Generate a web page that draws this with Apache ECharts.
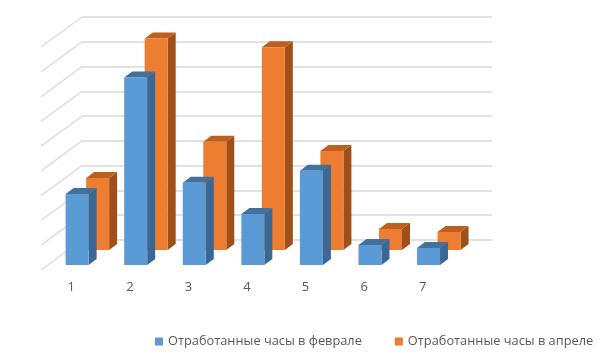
<!DOCTYPE html>
<html>
<head>
<meta charset="utf-8">
<title>Отработанные часы</title>
<script src="https://cdn.jsdelivr.net/npm/echarts@6/dist/echarts.min.js"></script>
<style>
html,body{margin:0;padding:0;background:#fff;}
#main{width:607px;height:355px;}
</style>
</head>
<body>
<div id="main"></div>
<script>
var categories = ['1', '2', '3', '4', '5', '6', '7'];
var gridTicks = [0, 1, 2, 3, 4, 5, 6, 7, 8, 9];
var febName = 'Отработанные часы в феврале';
var aprName = 'Отработанные часы в апреле';
var febValues = [2.87, 7.57, 3.32, 2.06, 3.8, 0.81, 0.69];
var aprValues = [2.91, 8.54, 4.37, 8.18, 4.0, 0.85, 0.73];

var FONT = '"Open Sans", sans-serif';
var BAR_W = 23;

// the fake 3D: moving toward the viewer goes left and down by this ratio
function bar3d(front, side, top, forwardY) {
  return function (params, api) {
    var base = api.coord([api.value(0), 0]);
    var head = api.coord([api.value(0), api.value(1)]);
    var dy = forwardY;
    var dx = -dy * 41 / 30;
    var x0 = base[0] + dx - BAR_W / 2;
    var x1 = x0 + BAR_W;
    var yb = base[1] + dy;
    var yt = head[1] + dy;
    var sx = 8, sy = 6;
    return {
      type: 'group',
      children: [
        { type: 'polygon', shape: { points: [[x1, yt], [x1 + sx, yt - sy], [x1 + sx, yb - sy], [x1, yb]] }, style: { fill: side } },
        { type: 'polygon', shape: { points: [[x0, yt], [x0 + sx, yt - sy], [x1 + sx, yt - sy], [x1, yt]] }, style: { fill: top } },
        { type: 'rect', shape: { x: x0, y: yt, width: BAR_W, height: yb - yt }, style: { fill: front } }
      ]
    };
  };
}

function slantLine(params, api) {
  var p = api.coord([0, api.value(0)]);
  var bx = p[0] - api.size([1, 0])[0] / 2;
  return {
    type: 'line',
    shape: { x1: bx, y1: p[1], x2: bx - 41, y2: p[1] + 30 },
    style: { stroke: '#dedede', lineWidth: 1.5 }
  };
}

var chart = echarts.init(document.getElementById('main'));
chart.setOption({
  animation: false,
  backgroundColor: '#fff',
  grid: { left: 82, right: 115, top: 17, bottom: 115 },
  legend: {
    left: 150, top: 330, itemWidth: 8, itemHeight: 8, itemGap: 33, icon: 'rect',
    data: [febName, aprName],
    textStyle: { fontFamily: FONT, fontSize: 12.8, color: '#595959' }
  },
  xAxis: {
    type: 'category',
    data: categories,
    axisLine: { show: false },
    axisTick: { show: false },
    axisLabel: { margin: 41, padding: [0, 80, 0, 0], fontFamily: FONT, fontSize: 13, color: '#595959' }
  },
  yAxis: {
    type: 'value', min: 0, max: 9, interval: 1,
    axisLine: { show: false },
    axisTick: { show: false },
    axisLabel: { show: false },
    splitLine: { lineStyle: { color: '#d9d9d9', width: 1.5 } }
  },
  series: [
    {
      type: 'custom', name: 'grid-side', silent: true, z: 1,
      renderItem: slantLine,
      encode: { y: 0 },
      data: gridTicks.map(function (t) { return [t]; })
    },
    {
      type: 'custom', name: febName, z: 4,
      itemStyle: { color: '#5B9BD5' },
      renderItem: bar3d('#5B9BD5', '#3A6794', '#41719C', 25),
      encode: { x: 0, y: 1 },
      data: febValues.map(function (v, i) { return [i, v]; })
    },
    {
      type: 'custom', name: aprName, z: 3,
      itemStyle: { color: '#ED7D31' },
      renderItem: bar3d('#ED7D31', '#9E5018', '#BC5F1F', 10),
      encode: { x: 0, y: 1 },
      data: aprValues.map(function (v, i) { return [i, v]; })
    }
  ]
});
</script>
</body>
</html>
